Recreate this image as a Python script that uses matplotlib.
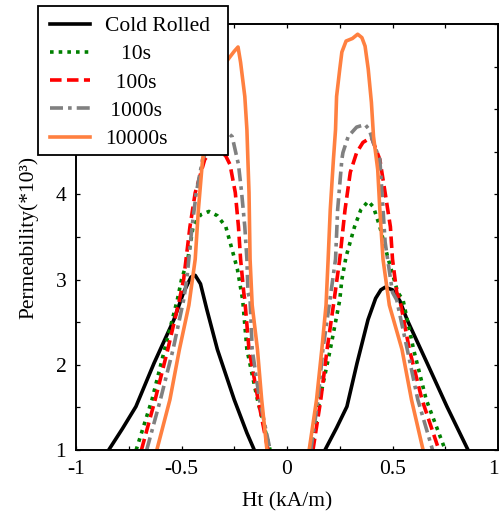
import numpy as np
import matplotlib
matplotlib.use("Agg")
import matplotlib.pyplot as plt
from matplotlib.patches import Rectangle
from matplotlib.transforms import ScaledTranslation

plt.rcParams['font.family'] = ['Liberation Serif', 'DejaVu Serif']
plt.rcParams['axes.unicode_minus'] = False

# ---------------- data ----------------
series_labels = ["Cold Rolled", "   10s", "  100s", " 1000s", "10000s"]

x_cold = [-0.845, -0.78, -0.716, -0.63, -0.536, -0.49, -0.455, -0.435, -0.41, -0.38, -0.33, -0.25, -0.19, -0.155, np.nan,
          0.18, 0.235, 0.284, 0.332, 0.384, 0.42, 0.445, 0.465, 0.50, 0.535, 0.569, 0.664, 0.758, 0.858]
y_cold = [1.0, 1.25, 1.51, 2.02, 2.53, 2.85, 3.03, 3.05, 2.95, 2.65, 2.18, 1.59, 1.2, 1.0, np.nan,
          1.0, 1.26, 1.51, 2.02, 2.53, 2.78, 2.88, 2.91, 2.88, 2.75, 2.53, 2.02, 1.51, 1.0]

x_10s = [-0.715, -0.64, -0.58, -0.52, -0.50, -0.47, -0.445, -0.41, -0.37, -0.33, -0.29, -0.26, -0.235, -0.21, -0.19, -0.14, -0.08, np.nan,
         0.115, 0.155, 0.205, 0.25, 0.26, 0.28, 0.32, 0.35, 0.385, 0.41, 0.44, 0.48, 0.525, 0.55, 0.60, 0.66, 0.75]
y_10s = [1.0, 1.59, 2.18, 2.76, 3.0, 3.24, 3.62, 3.76, 3.8, 3.75, 3.62, 3.35, 3.12, 2.76, 2.18, 1.59, 1.0, np.nan,
         1.0, 1.59, 2.18, 2.76, 3.0, 3.27, 3.62, 3.82, 3.92, 3.85, 3.62, 3.24, 2.85, 2.76, 2.18, 1.59, 1.0]

x_100s = [-0.69, -0.625, -0.565, -0.51, -0.49, -0.46, -0.435, -0.39, -0.36, -0.32, -0.29, -0.27, -0.245, -0.23, -0.22, -0.205, -0.2, -0.18, -0.137, -0.09, np.nan,
          0.123, 0.16, 0.19, 0.22, 0.25, 0.275, 0.30, 0.33, 0.36, 0.40, 0.44, 0.465, 0.49, 0.50, 0.52, 0.535, 0.58, 0.64, 0.72]
y_100s = [1.0, 1.59, 2.18, 2.76, 3.0, 3.62, 4.02, 4.41, 4.5, 4.52, 4.45, 4.35, 4.02, 3.62, 3.24, 2.85, 2.76, 2.18, 1.59, 1.0, np.nan,
          1.0, 1.59, 2.18, 2.7, 3.24, 3.82, 4.26, 4.49, 4.61, 4.67, 4.41, 4.02, 3.62, 3.24, 2.85, 2.76, 2.18, 1.59, 1.0]

x_1000s = [-0.665, -0.60, -0.54, -0.49, -0.475, -0.45, -0.43, -0.40, -0.36, -0.31, -0.28, -0.26, -0.23, -0.215, -0.2, -0.19, -0.185, -0.175, -0.165, -0.13, -0.08, np.nan,
           0.113, 0.147, 0.17, 0.20, 0.23, 0.24, 0.26, 0.265, 0.29, 0.33, 0.37, 0.39, 0.41, 0.44, 0.465, 0.50, 0.52, 0.57, 0.62, 0.69]
y_1000s = [1.0, 1.59, 2.18, 2.76, 3.0, 3.62, 4.02, 4.41, 4.62, 4.72, 4.72, 4.68, 4.35, 4.02, 3.62, 3.24, 2.85, 2.76, 2.18, 1.59, 1.0, np.nan,
           1.0, 1.59, 2.18, 2.7, 3.24, 3.82, 4.41, 4.49, 4.68, 4.79, 4.82, 4.76, 4.6, 4.41, 3.44, 2.85, 2.76, 2.18, 1.59, 1.0]

x_10000s = [-0.617, -0.555, -0.51, -0.465, -0.435, -0.42, -0.40, -0.37, -0.33, -0.29, -0.25, -0.232, -0.22, -0.20, -0.19, -0.185, -0.18, -0.175, -0.165, -0.14, -0.12, -0.095, np.nan,
            0.105, 0.14, 0.165, 0.185, 0.195, 0.205, 0.22, 0.23, 0.235, 0.25, 0.26, 0.28, 0.31, 0.335, 0.355, 0.37, 0.385, 0.40, 0.41, 0.43, 0.44, 0.455, 0.485, 0.545, 0.59, 0.645]
y_10000s = [1.0, 1.59, 2.18, 2.7, 3.24, 3.82, 4.41, 4.9, 5.3, 5.55, 5.68, 5.73, 5.55, 5.15, 4.76, 4.38, 4.02, 3.24, 2.7, 2.18, 1.59, 1.0, np.nan,
            1.0, 1.59, 2.18, 2.7, 3.24, 3.82, 4.41, 4.76, 5.15, 5.47, 5.67, 5.8, 5.83, 5.88, 5.84, 5.74, 5.47, 5.08, 4.68, 4.29, 3.82, 3.24, 2.7, 2.18, 1.59, 1.0]

x_ticks = [-1, -0.5, 0, 0.5, 1]
x_ticklabels = ["-1", "-0.5", "0", "0.5", "1"]
y_ticks = [1, 2, 3, 4, 5, 6]
y_ticklabels = ["1", "2", "3", "4", "5", "6"]
x_label = "Ht (kA/m)"
y_label = "Permeability(*10³)"

# ---------------- figure ----------------
W, H = 499, 512
fig = plt.figure(figsize=(W / 100, H / 100), dpi=100)
ax = fig.add_axes([76 / W, 1 - 450 / H, (498 - 76) / W, (450 - 24) / H])

fs = 15.5
lw = 2.6
styles = [
    dict(color="black", linestyle="-"),
    dict(color="green", linestyle=(0, (1.0, 1.4))),
    dict(color="red", linestyle=(0, (3.2, 1.5))),
    dict(color="#808080", linestyle=(0, (3.6, 1.4, 1.0, 1.4))),
    dict(color="#FF8040", linestyle="-"),
]
xs = [x_cold, x_10s, x_100s, x_1000s, x_10000s]
ys = [y_cold, y_10s, y_100s, y_1000s, y_10000s]
handles = []
for x, y, st, lab in zip(xs, ys, styles, series_labels):
    h, = ax.plot(x, y, linewidth=lw, label=lab, solid_joinstyle="round", **st)
    handles.append(h)

ax.set_xlim(-1, 1)
ax.set_ylim(1, 6)
ax.set_xticks(x_ticks)
ax.set_xticklabels(x_ticklabels)
ax.set_yticks(y_ticks)
ax.set_yticklabels(y_ticklabels)
ax.set_xticks(np.arange(-1, 1.01, 0.25), minor=True)
ax.set_yticks(np.arange(1, 6.01, 0.5), minor=True)
ax.tick_params(which="both", direction="in", top=True, right=True, length=3, width=0.9,
               labelsize=fs)
ax.tick_params(axis="x", which="major", pad=7)
ax.tick_params(axis="y", which="major", pad=7)
for sp in ax.spines.values():
    sp.set_linewidth(1.4)

# keep the last x tick label inside the picture
last = ax.get_xticklabels()[-1]
last.set_transform(last.get_transform() + ScaledTranslation(-0.05, 0, fig.dpi_scale_trans))

ax.set_xlabel(x_label, fontsize=fs, labelpad=10)
ax.set_ylabel(y_label, fontsize=fs, labelpad=12)

# legend box (figure coordinates)
rect = Rectangle((38 / W, 1 - 155 / H), 190 / W, 149 / H, transform=fig.transFigure,
                 facecolor="white", edgecolor="black", linewidth=1.3, zorder=3)
fig.add_artist(rect)
leg = fig.legend(handles, series_labels, loc="upper left",
                 bbox_to_anchor=(50 / W, 1 - 16 / H), bbox_transform=fig.transFigure,
                 frameon=False, borderpad=0, borderaxespad=0, handlelength=1.85,
                 handletextpad=0.7, labelspacing=0.38, prop={"size": fs})
leg.set_zorder(5)

fig.savefig("out.png", dpi=100)
